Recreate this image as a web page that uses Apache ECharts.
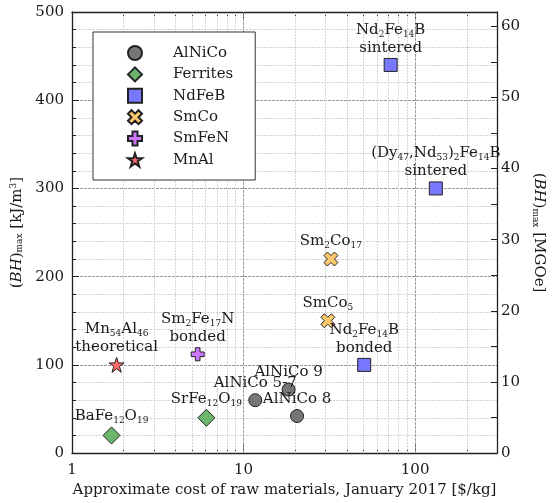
<!DOCTYPE html>
<html>
<head>
<meta charset="utf-8">
<script src="https://cdn.jsdelivr.net/npm/echarts@6/dist/echarts.min.js"></script>
<style>html,body{margin:0;padding:0;background:#fff}#c{width:555px;height:503px}</style>
</head>
<body>
<div id="c"></div>
<script>
const categories = ['AlNiCo', 'Ferrites', 'NdFeB', 'SmCo', 'SmFeN', 'MnAl'];

const alnicoX = [11.7, 18.3, 20.5];
const alnicoY = [60, 72, 42];
const alnicoLabels = ['AlNiCo 5-7', 'AlNiCo 9', 'AlNiCo 8'];

const ferriteX = [1.7, 6.07];
const ferriteY = [20, 40];
const ferriteLabels = ['BaFe{s|12}O{s|19}', 'SrFe{s|12}O{s|19}'];

const ndfebX = [72, 132, 50.5];
const ndfebY = [440, 300, 100];
const ndfebLabels = ['Nd{s|2}Fe{s|14}B\nsintered', '(Dy{s|47},Nd{s|53}){s|2}Fe{s|14}B\nsintered', 'Nd{s|2}Fe{s|14}B\nbonded'];

const smcoX = [32.3, 31];
const smcoY = [220, 150];
const smcoLabels = ['Sm{s|2}Co{s|17}', 'SmCo{s|5}'];

const smfenX = [5.4];
const smfenY = [112];
const smfenLabels = ['Sm{s|2}Fe{s|17}N\nbonded'];

const mnalX = [1.82];
const mnalY = [100];
const mnalLabels = ['Mn{s|54}Al{s|46}\ntheoretical'];

const xMinorGrid = [2, 3, 4, 5, 6, 7, 8, 9, 20, 30, 40, 50, 60, 70, 80, 90, 200];
const xMajorGrid = [10, 100];

const yLeftMax = 500;
const yRightMax = 62;

const FONT = 'DejaVu Serif';
const TXT = '#1a1a1a';

const rich = {
  s: { fontSize: 9, fontFamily: FONT, color: TXT, verticalAlign: 'bottom', lineHeight: 12 },
  p: { fontSize: 9, fontFamily: FONT, color: TXT, verticalAlign: 'top', lineHeight: 12 },
  i: { fontSize: 15, fontFamily: FONT, fontStyle: 'italic', color: TXT }
};

const plusPath = 'path://M3.2,0H6.8V3.2H10V6.8H6.8V10H3.2V6.8H0V3.2H3.2Z';
const xPath = 'path://M0,2.5L2.5,0L5,2.5L7.5,0L10,2.5L7.5,5L10,7.5L7.5,10L5,7.5L2.5,10L0,7.5L2.5,5Z';
const starPath = 'path://M50,0L61.8,35.4L100,35.4L69.1,57.3L80.9,95.1L50,72L19.1,95.1L30.9,57.3L0,35.4L38.2,35.4Z';

function pts(xs, ys, labels) {
  return xs.map((x, k) => ({ value: [x, ys[k]], name: labels[k] }));
}

const labelCfg = {
  show: true,
  position: 'top',
  distance: 1,
  formatter: p => p.name,
  fontFamily: FONT,
  fontSize: 15,
  lineHeight: 18,
  color: TXT,
  rich: rich
};

function mk(name, data, symbol, size, color) {
  return {
    name: name,
    type: 'scatter',
    data: data,
    symbol: symbol,
    symbolSize: size,
    itemStyle: { color: color, borderColor: '#222', borderWidth: 1, opacity: 1 },
    label: labelCfg,
    emphasis: { disabled: true },
    z: 5
  };
}

const series = [
  mk('AlNiCo', pts(alnicoX, alnicoY, alnicoLabels), 'circle', 13, '#777777'),
  mk('Ferrites', pts(ferriteX, ferriteY, ferriteLabels), 'diamond', 17, '#6db46d'),
  mk('NdFeB', pts(ndfebX, ndfebY, ndfebLabels), 'rect', 13, '#7878ff'),
  mk('SmCo', pts(smcoX, smcoY, smcoLabels), xPath, 14, '#fdc86e'),
  mk('SmFeN', pts(smfenX, smfenY, smfenLabels), plusPath, 13, '#cc77ff'),
  mk('MnAl', pts(mnalX, mnalY, mnalLabels), starPath, 15, '#ff6b6b'),
  {
    name: 'grid', type: 'scatter', data: [], silent: true, z: 1,
    markLine: {
      silent: true, symbol: 'none', label: { show: false }, animation: false,
      data: xMinorGrid.map(v => ({ xAxis: v, lineStyle: { color: '#d4d4d4', type: [2, 1], width: 1 } }))
        .concat(xMajorGrid.map(v => ({ xAxis: v, lineStyle: { color: '#9a9a9a', type: [3, 1], width: 1 } })))
    }
  }
];

const chart = echarts.init(document.getElementById('c'), null, { renderer: 'canvas' });
chart.setOption({
  animation: false,
  backgroundColor: '#fff',
  textStyle: { fontFamily: FONT },
  grid: { left: 72, right: 58, top: 12, bottom: 49, containLabel: false },
  legend: {
    data: categories,
    orient: 'vertical',
    left: 93, top: 32,
    padding: [13, 22, 12, 34],
    itemGap: 5.4,
    itemWidth: 14, itemHeight: 14,
    borderColor: '#333', borderWidth: 1,
    backgroundColor: '#fff',
    textStyle: { fontFamily: FONT, fontSize: 15, color: TXT, padding: [0, 0, 0, 26], lineHeight: 16 },
    selectedMode: false,
    z: 10
  },
  xAxis: [
    {
      type: 'log', logBase: 10, min: 1, max: 300,
      axisLine: { show: true, onZero: false, lineStyle: { color: '#222', width: 1.3 } },
      axisTick: { show: true, inside: true, length: 8, lineStyle: { color: '#222' } },
      minorTick: { show: true, splitNumber: 9, length: 4, lineStyle: { color: '#222' } },
      splitLine: { show: false },
      axisLabel: { fontFamily: FONT, fontSize: 15, color: TXT, margin: 10, showMaxLabel: false },
      name: 'Approximate cost of raw materials, January 2017 [$/kg]',
      nameLocation: 'middle', nameGap: 28,
      nameTextStyle: { fontFamily: FONT, fontSize: 15, color: TXT, verticalAlign: 'top' }
    },
    {
      type: 'log', logBase: 10, min: 1, max: 300, position: 'top',
      axisLine: { show: true, onZero: false, lineStyle: { color: '#222', width: 1.3 } },
      axisTick: { show: true, inside: true, length: 8, lineStyle: { color: '#222' } },
      minorTick: { show: true, splitNumber: 9, length: 4, lineStyle: { color: '#222' } },
      axisLabel: { show: false },
      splitLine: { show: false }
    }
  ],
  yAxis: [
    {
      type: 'value', min: 0, max: yLeftMax, interval: 100,
      axisLine: { show: true, lineStyle: { color: '#222', width: 1.3 } },
      axisTick: { show: true, inside: true, length: 7, lineStyle: { color: '#222' } },
      minorTick: { show: true, splitNumber: 5, length: 4, lineStyle: { color: '#222' } },
      splitLine: { show: true, lineStyle: { color: '#9a9a9a', type: [3, 1] } },
      minorSplitLine: { show: true, lineStyle: { color: '#d4d4d4', type: [2, 1] } },
      axisLabel: { fontFamily: FONT, fontSize: 15, color: TXT, margin: 8 },
      name: '{n|(}{i|BH}{n|)}{s|max}{n| [kJ/m}{p|3}{n|]}',
      nameLocation: 'middle', nameGap: 38, nameRotate: 90,
      nameTextStyle: { fontFamily: FONT, fontSize: 15, color: TXT, rich: Object.assign({ n: { fontSize: 15, fontFamily: FONT, color: TXT } }, rich) }
    },
    {
      type: 'value', min: 0, max: yRightMax, interval: 10, position: 'right',
      axisLine: { show: true, lineStyle: { color: '#222', width: 1.3 } },
      axisTick: { show: true, inside: true, length: 6, lineStyle: { color: '#222' } },
      minorTick: { show: true, splitNumber: 2, length: 6, lineStyle: { color: '#222' } },
      splitLine: { show: false },
      axisLabel: { fontFamily: FONT, fontSize: 15, color: TXT, margin: 4, showMaxLabel: false },
      name: '{n|(}{i|BH}{n|)}{s|max}{n| [MGOe]}',
      nameLocation: 'middle', nameGap: 28, nameRotate: -90,
      nameTextStyle: { fontFamily: FONT, fontSize: 15, color: TXT, rich: Object.assign({ n: { fontSize: 15, fontFamily: FONT, color: TXT } }, rich) }
    }
  ],
  series: series
});
</script>
</body>
</html>
